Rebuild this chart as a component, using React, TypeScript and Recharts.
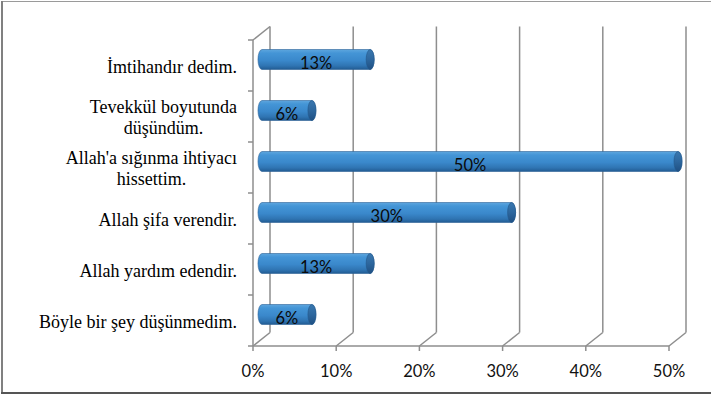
import React from 'react';
import { BarChart, Bar, XAxis, YAxis, CartesianGrid } from 'recharts';

const categories = [
  'İmtihandır dedim.',
  'Tevekkül boyutunda\ndüşündüm.',
  "Allah'a sığınma ihtiyacı\nhissettim.",
  'Allah şifa verendir. ',
  'Allah yardım edendir.',
  'Böyle bir şey düşünmedim.',
];
const values = [13, 6, 50, 30, 13, 6];
const xTicks = [0, 10, 20, 30, 40, 50];

const data = categories.map((c, i) => ({ name: c, value: values[i] }));

const W = 711;
const H = 396;
const DX = 17;
const DY = -13.5;
const BAR_DX = 9;
const BAR_DY = -6.5;
const GRID = '#8e8e8e';
const BAND_HALF = (346 - 40) / 6 / 2;
const CAT_FONT = '18px "Liberation Serif"';
const NUM_FONT = 'Lato, "Open Sans", sans-serif';

let ctx: CanvasRenderingContext2D | null = null;
function measure(text: string): number {
  if (!ctx) {
    const c = document.createElement('canvas');
    ctx = c.getContext('2d');
  }
  if (!ctx) return text.length * 8;
  ctx.font = CAT_FONT;
  return ctx.measureText(text).width;
}

const GridLine = (props: any) => {
  const { x1, y1, y2, index } = props;
  return (
    <g key={`g-${index}-${x1}`}>
      <line x1={x1 + DX} y1={y1 + DY} x2={x1 + DX} y2={y2 + DY} stroke={GRID} strokeWidth={1.5} />
      <line x1={x1} y1={y2} x2={x1 + DX} y2={y2 + DY} stroke={GRID} strokeWidth={1.5} />
      {index === 0 ? (
        <line x1={x1} y1={y1} x2={x1 + DX} y2={y1 + DY} stroke={GRID} strokeWidth={1.5} />
      ) : null}
    </g>
  );
};

const CatTick = (props: any) => {
  const { x, y, payload, index, visibleTicksCount } = props;
  const axisX = x + 16;
  const lines = String(payload.value).split('\n');
  const last = index === (visibleTicksCount ?? categories.length) - 1;
  let texts: React.ReactNode;
  if (lines.length === 1) {
    texts = (
      <text x={x} y={y + 7} textAnchor="end" fontFamily='"Liberation Serif", serif' fontSize={18} fill="#000">
        {lines[0]}
      </text>
    );
  } else {
    const w1 = measure(lines[0]);
    const cx = x - w1 / 2;
    texts = (
      <g>
        <text x={x} y={y - 3.5} textAnchor="end" fontFamily='"Liberation Serif", serif' fontSize={18} fill="#000">
          {lines[0]}
        </text>
        <text x={cx} y={y + 17.5} textAnchor="middle" fontFamily='"Liberation Serif", serif' fontSize={18} fill="#000">
          {lines[1]}
        </text>
      </g>
    );
  }
  return (
    <g>
      <line x1={axisX - 5} y1={y - BAND_HALF} x2={axisX} y2={y - BAND_HALF} stroke={GRID} strokeWidth={1.5} />
      {last ? (
        <line x1={axisX - 5} y1={y + BAND_HALF} x2={axisX} y2={y + BAND_HALF} stroke={GRID} strokeWidth={1.5} />
      ) : null}
      {texts}
    </g>
  );
};

const NumTick = (props: any) => {
  const { x, y, payload } = props;
  return (
    <text x={x} y={y + 24} textAnchor="middle" fontFamily={NUM_FONT} fontSize={16.5} fill="#111">
      {`${payload.value}%`}
    </text>
  );
};

const Cylinder = (props: any) => {
  const { x, y, width, height, payload, index } = props;
  if (width == null || height == null) return null;
  const x0 = x + BAR_DX;
  const y0 = y + BAR_DY;
  const w = width;
  const h = height;
  const rx = 4;
  const ry = h / 2;
  const d = `M ${x0} ${y0} L ${x0 + w} ${y0} A ${rx} ${ry} 0 0 1 ${x0 + w} ${y0 + h} L ${x0} ${y0 + h} A ${rx} ${ry} 0 0 1 ${x0} ${y0} Z`;
  return (
    <g key={`cyl-${index}`}>
      <path d={d} fill="url(#cylBody)" stroke="#2a6096" strokeWidth={0.6} />
      <ellipse cx={x0 + w} cy={y0 + ry} rx={rx} ry={ry} fill="url(#cylCap)" stroke="#24588a" strokeWidth={0.6} />
      <text
        x={x0 + w / 2}
        y={y0 + ry + 9.5}
        textAnchor="middle"
        fontFamily={NUM_FONT}
        fontSize={16.5}
        fill="#0a0a0a"
      >
        {`${payload.value}%`}
      </text>
    </g>
  );
};

export default function App() {
  return (
    <div style={{ position: 'absolute', left: 0, top: 0, width: W, height: H, background: '#fff' }}>
      <BarChart
        width={W}
        height={H}
        data={data}
        layout="vertical"
        margin={{ top: 40, right: 42, bottom: 0, left: 0 }}
        barCategoryGap={0}
      >
        <defs>
          <linearGradient id="cylBody" x1="0" y1="0" x2="0" y2="1">
            <stop offset="0" stopColor="#5ea6de" />
            <stop offset="0.18" stopColor="#4495d6" />
            <stop offset="0.55" stopColor="#3a88cb" />
            <stop offset="0.82" stopColor="#2f74b2" />
            <stop offset="1" stopColor="#215b92" />
          </linearGradient>
          <linearGradient id="cylCap" x1="0" y1="0" x2="0" y2="1">
            <stop offset="0" stopColor="#3a78b0" />
            <stop offset="0.5" stopColor="#2d679e" />
            <stop offset="1" stopColor="#1f5083" />
          </linearGradient>
        </defs>
        <CartesianGrid horizontal={false} vertical={GridLine} stroke={GRID} />
        <XAxis
          type="number"
          domain={[0, 50]}
          ticks={xTicks}
          height={50}
          axisLine={{ stroke: GRID, strokeWidth: 1.5 }}
          tickLine={{ stroke: GRID, strokeWidth: 1.5 }}
          tickSize={5}
          tick={NumTick}
          interval={0}
        />
        <YAxis
          type="category"
          dataKey="name"
          width={253}
          axisLine={{ stroke: GRID, strokeWidth: 1.5 }}
          tickLine={false}
          tickSize={5}
          tickMargin={11}
          tick={CatTick}
          interval={0}
        />
        <Bar dataKey="value" barSize={20} shape={Cylinder} isAnimationActive={false} />
      </BarChart>
      <div style={{ position: 'absolute', left: 1, top: 1, width: 710, height: 1, background: '#9a9a9a' }} />
      <div style={{ position: 'absolute', left: 1, top: 1, width: 2, height: 393, background: '#808080' }} />
      <div style={{ position: 'absolute', left: 1, top: 392, width: 710, height: 2, background: '#555' }} />
    </div>
  );
}
